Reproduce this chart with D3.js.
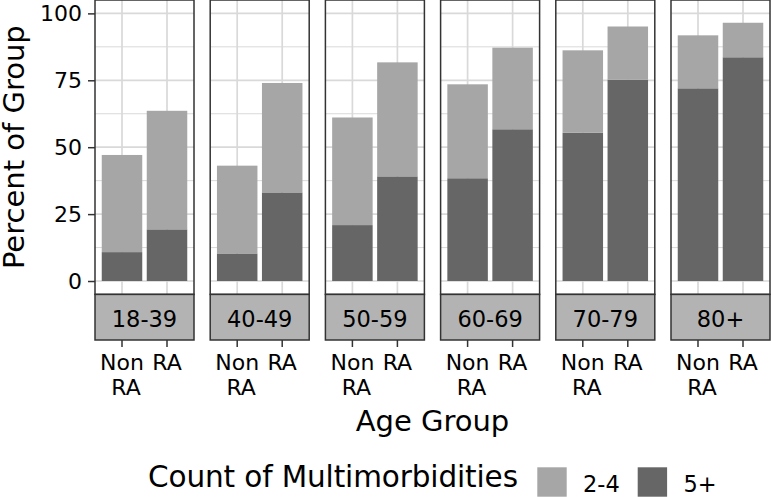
<!DOCTYPE html>
<html>
<head>
<meta charset="utf-8">
<script src="https://cdn.jsdelivr.net/npm/d3@7"></script>
<style>
  body { margin: 0; background: #ffffff; }
  text { font-family: "DejaVu Sans", sans-serif; fill: #000; }
</style>
</head>
<body>
<div id="screen"></div>
<script>
var ageGroups = ["18-39", "40-49", "50-59", "60-69", "70-79", "80+"];
var groups = ["Non RA", "RA"];
var counts = ["2-4", "5+"];
// percent with 5+ conditions, per age group: [Non RA, RA]
var fivePlus = [[10.8, 19.3], [10.3, 33.1], [20.9, 39.1], [38.4, 56.7], [55.4, 75.2], [72.0, 83.6]];
// percent with 2+ conditions in total (top of stack)
var totals = [[47.1, 63.6], [43.1, 74.0], [61.1, 81.7], [73.5, 87.2], [86.2, 95.1], [91.8, 96.5]];
var yTicks = [0, 25, 50, 75, 100];
var yMinor = [12.5, 37.5, 62.5, 87.5];

var width = 771;
var height = 497;
var fills = {"2-4": "#a6a6a6", "5+": "#666666"};
var borderColour = "#333333";
var gridColour = "#d9d9d9";

var svg = d3.select("#screen").append("svg").attr("width", width).attr("height", height);

var panelX = d3.scaleBand().domain(ageGroups).range([95, 770]).paddingInner(0.1406);
var barX = d3.scaleBand().domain(groups).range([0, panelX.bandwidth()]).paddingInner(0.1).paddingOuter(0.15);
var y = d3.scaleLinear().domain([-5, 105]).range([294.4, 0]);
var panelH = y(-5) - y(105);
var stripBottom = 340;

// rows for stacking
var rows = [];
ageGroups.forEach(function(age, i) {
    groups.forEach(function(g, j) {
        rows.push({age: age, group: g, "5+": fivePlus[i][j], "2-4": totals[i][j] - fivePlus[i][j]});
    });
});
var stacked = d3.stack().keys(["5+", "2-4"])(rows);

ageGroups.forEach(function(age) {
    var p = svg.append("g").attr("transform", "translate(" + panelX(age) + ",0)");

    p.selectAll(".minor").data(yMinor).enter().append("line")
        .attr("x1", 0).attr("x2", panelX.bandwidth())
        .attr("y1", d => y(d)).attr("y2", d => y(d))
        .attr("stroke", gridColour).attr("stroke-width", 1);
    p.selectAll(".major").data(yTicks).enter().append("line")
        .attr("x1", 0).attr("x2", panelX.bandwidth())
        .attr("y1", d => y(d)).attr("y2", d => y(d))
        .attr("stroke", gridColour).attr("stroke-width", 1.7);
    p.selectAll(".vgrid").data(groups).enter().append("line")
        .attr("x1", d => barX(d) + barX.bandwidth() / 2).attr("x2", d => barX(d) + barX.bandwidth() / 2)
        .attr("y1", y(105)).attr("y2", y(-5))
        .attr("stroke", gridColour).attr("stroke-width", 1.7);

    stacked.forEach(function(layer) {
        p.selectAll(".bar" + layer.key.replace(/\W/g, ""))
            .data(layer.filter(d => d.data.age === age)).enter().append("rect")
            .attr("x", d => barX(d.data.group))
            .attr("width", barX.bandwidth())
            .attr("y", d => y(d[1]))
            .attr("height", d => y(d[0]) - y(d[1]))
            .attr("fill", fills[layer.key]);
    });

    p.append("rect").attr("x", 0).attr("y", y(105)).attr("width", panelX.bandwidth()).attr("height", panelH)
        .attr("fill", "none").attr("stroke", borderColour).attr("stroke-width", 1.5);

    // strip
    p.append("rect").attr("x", 0).attr("y", y(-5)).attr("width", panelX.bandwidth()).attr("height", stripBottom - y(-5))
        .attr("fill", "#b3b3b3").attr("stroke", borderColour).attr("stroke-width", 1.5);
    p.append("text").attr("x", panelX.bandwidth() / 2).attr("y", 326.5)
        .attr("text-anchor", "middle").style("font-size", "22.5px").text(age);

    // x axis ticks and labels
    groups.forEach(function(g) {
        var cx = barX(g) + barX.bandwidth() / 2;
        p.append("line").attr("x1", cx).attr("x2", cx).attr("y1", stripBottom).attr("y2", stripBottom + 7)
            .attr("stroke", borderColour).attr("stroke-width", 1.5);
        var words = g.split(" ");
        words.forEach(function(w, k) {
            p.append("text").attr("x", cx + (k > 0 ? 4 : 0)).attr("y", 370 + k * 25)
                .attr("text-anchor", "middle").style("font-size", "22px").text(w);
        });
    });
});

// y axis
var yAxis = svg.append("g").attr("transform", "translate(95,0)")
    .call(d3.axisLeft(y).tickValues(yTicks).tickSize(7).tickPadding(6));
yAxis.select(".domain").remove();
yAxis.selectAll(".tick line").attr("stroke", borderColour).attr("stroke-width", 1.5);
yAxis.selectAll(".tick text").style("font-size", "22px").attr("fill", "#000")
    .style("font-family", "DejaVu Sans, sans-serif");

svg.append("text").attr("transform", "translate(23.5," + (y(-5) / 2) + ") rotate(-90)")
    .attr("text-anchor", "middle").style("font-size", "29px").text("Percent of Group");

svg.append("text").attr("x", (95 + 770) / 2).attr("y", 431)
    .attr("text-anchor", "middle").style("font-size", "29px").text("Age Group");

// legend
var legend = svg.append("g");
legend.append("text").attr("x", 148).attr("y", 486.7).style("font-size", "29.5px")
    .attr("textLength", 370).attr("lengthAdjust", "spacing").text("Count of Multimorbidities");
var keyX = d3.scalePoint().domain(counts).range([537.3, 637.7]);
legend.selectAll(".key").data(counts).enter().append("rect")
    .attr("x", d => keyX(d)).attr("y", 467.3).attr("width", 29.4).attr("height", 29.4)
    .attr("fill", d => fills[d]);
legend.selectAll(".keylabel").data(counts).enter().append("text")
    .attr("x", d => keyX(d) + 45.7).attr("y", 491.7).style("font-size", "22.5px").text(d => d);
</script>
</body>
</html>
